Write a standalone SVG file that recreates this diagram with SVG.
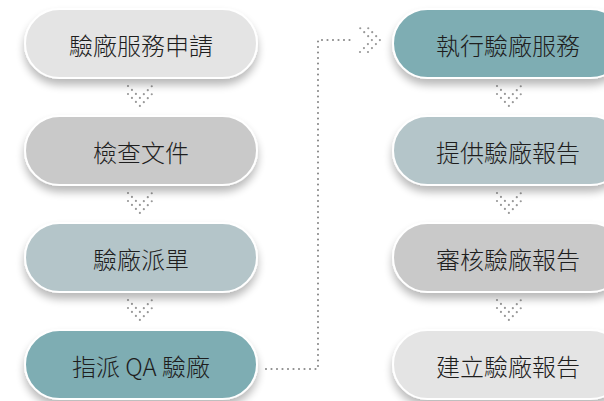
<svg xmlns="http://www.w3.org/2000/svg" width="604" height="401" viewBox="0 0 604 401">
<defs>
<filter id="sh" x="-10%" y="-20%" width="120%" height="160%">
<feGaussianBlur in="SourceAlpha" stdDeviation="4.5"/>
<feOffset dx="0" dy="6" result="b"/>
<feComponentTransfer><feFuncA type="linear" slope="0.28"/></feComponentTransfer>
<feMerge><feMergeNode/><feMergeNode in="SourceGraphic"/></feMerge>
</filter>
<g id="chev">
<polyline points="-12,-11 0,1 12,-11" class="dot"/>
<polyline points="-12,-3 0,9 12,-3" class="dot"/>
</g>
</defs>
<style>
.pill{stroke:#fff;stroke-width:2;filter:url(#sh)}
.c1{fill:#e4e4e4}.c2{fill:#c9c9c9}.c3{fill:#b4c5c9}.c4{fill:#7eadb3}
.t{font-family:"Noto Sans CJK TC","Noto Sans",sans-serif;font-size:24px;font-weight:300;fill:#1e1e1e;text-anchor:middle;dominant-baseline:central}
.dot{fill:none;stroke:#999;stroke-width:2.2;stroke-linecap:round;stroke-dasharray:0 5.6}
.line{fill:none;stroke:#8c8c8c;stroke-width:2.2;stroke-linecap:round;stroke-dasharray:0 5.5}
</style>
<rect width="604" height="401" fill="#fff"/>
<g id="connectors">
<use href="#chev" x="140" y="97"/>
<use href="#chev" x="140" y="204"/>
<use href="#chev" x="140" y="311"/>
<use href="#chev" x="509" y="97"/>
<use href="#chev" x="509" y="204"/>
<use href="#chev" x="509" y="311"/>
<polyline points="266,369 318,369 318,40 352,40" class="line"/>
<use href="#chev" transform="translate(371,40) rotate(-90)"/>
</g>
<g id="n1"><rect class="pill c1" x="25" y="9" width="232" height="69" rx="34.5"/><text class="t" x="141" y="44">驗廠服務申請</text></g>
<g id="n2"><rect class="pill c2" x="25" y="116" width="232" height="69" rx="34.5"/><text class="t" x="141" y="151">檢查文件</text></g>
<g id="n3"><rect class="pill c3" x="25" y="223" width="232" height="69" rx="34.5"/><text class="t" x="141" y="258">驗廠派單</text></g>
<g id="n4"><rect class="pill c4" x="25" y="330" width="232" height="69" rx="34.5"/><text class="t" x="141" y="365">指派 QA 驗廠</text></g>
<g id="n5"><rect class="pill c4" x="393" y="9" width="232" height="69" rx="34.5"/><text class="t" x="508" y="44">執行驗廠服務</text></g>
<g id="n6"><rect class="pill c3" x="393" y="116" width="232" height="69" rx="34.5"/><text class="t" x="508" y="151">提供驗廠報告</text></g>
<g id="n7"><rect class="pill c2" x="393" y="223" width="232" height="69" rx="34.5"/><text class="t" x="508" y="258">審核驗廠報告</text></g>
<g id="n8"><rect class="pill c1" x="393" y="330" width="232" height="69" rx="34.5"/><text class="t" x="508" y="365">建立驗廠報告</text></g>
</svg>
